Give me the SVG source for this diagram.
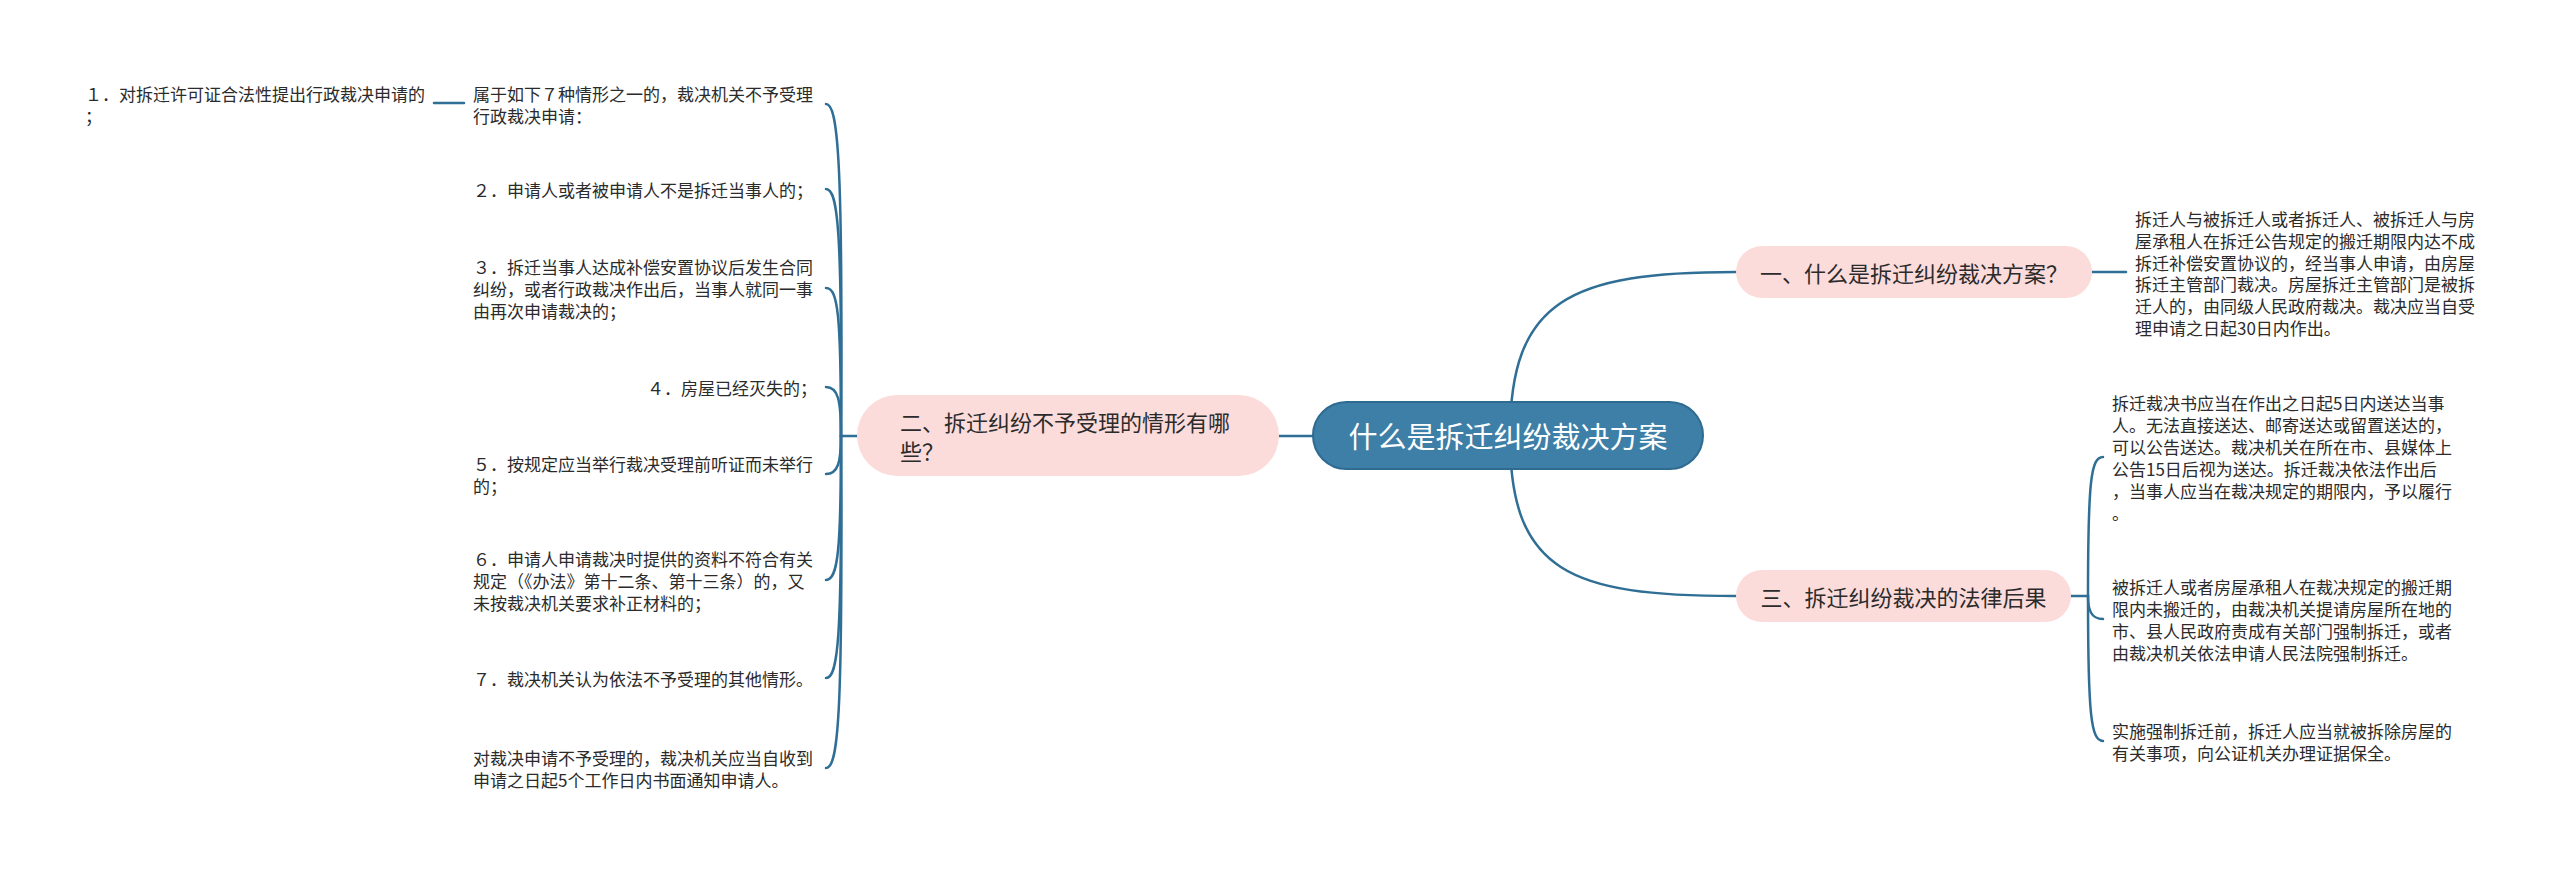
<svg xmlns="http://www.w3.org/2000/svg" width="2560" height="871" viewBox="0 0 2560 871">
<style>
.t{font-family:"Noto Sans CJK SC","Noto Sans",sans-serif;font-size:17px;fill:#2b2b2b;dominant-baseline:central}
.m{font-family:"Noto Sans CJK SC","Noto Sans",sans-serif;font-size:22px;fill:#2b2b2b;dominant-baseline:central}
.c{font-family:"Noto Sans CJK SC","Noto Sans",sans-serif;font-size:29px;fill:#ffffff;dominant-baseline:central;text-anchor:middle}
.pink{fill:#fbdcdb}
.conn path,.conn line{fill:none;stroke:#2f6e95;stroke-width:2.5;stroke-linecap:round}
</style>
<rect width="2560" height="871" fill="#ffffff"/>
<g class="conn" id="connectors">
<path d="M1510,436 C1510,300 1570,272 1736,272"/>
<path d="M1510,436 C1510,572 1570,596 1736,596"/>
<line x1="1279" y1="436" x2="1313" y2="436"/>
<line x1="841" y1="436" x2="857" y2="436"/>
<path d="M841,436 C843,160 838,104 826,104"/>
<path d="M841,436 C842,230 838,189 826,189"/>
<path d="M841,436 C841,315 838,288 826,288"/>
<path d="M841,436 C841,400 838,387 826,387"/>
<path d="M841,436 C841,462 838,474 826,474"/>
<path d="M841,436 C841,550 838,580 826,580"/>
<path d="M841,436 C842,640 838,678 826,678"/>
<path d="M841,436 C843,720 838,768 826,768"/>
<line x1="434" y1="103" x2="464" y2="103"/>
<line x1="2092" y1="272" x2="2126" y2="272"/>
<line x1="2071" y1="596" x2="2088" y2="596"/>
<path d="M2088,596 C2088,480 2091,457 2103,457"/>
<path d="M2088,596 C2088,610 2091,619 2103,619"/>
<path d="M2088,596 C2088,715 2091,741 2103,741"/>
</g>
<g id="root">
<rect x="1313" y="402" width="390" height="67" rx="33.5" fill="#3e7fa7" stroke="#2f6a90" stroke-width="2"/>
<text class="c" x="1508" y="435">什么是拆迁纠纷裁决方案</text>
</g>
<g id="topic1">
<rect class="pink" x="1736" y="246" width="356" height="52" rx="26"/>
<text class="m" x="1914" y="272" text-anchor="middle">一、什么是拆迁纠纷裁决方案？</text>
</g>
<g id="topic2">
<rect class="pink" x="857" y="395" width="422" height="81" rx="40.5"/>
<text class="m" x="900" y="421">二、拆迁纠纷不予受理的情形有哪</text>
<text class="m" x="900" y="450">些？</text>
</g>
<g id="topic3">
<rect class="pink" x="1736" y="570" width="335" height="52" rx="26"/>
<text class="m" x="1903.5" y="596" text-anchor="middle">三、拆迁纠纷裁决的法律后果</text>
</g>
<g id="t1-detail">
<text class="t" x="2135" y="218">拆迁人与被拆迁人或者拆迁人、被拆迁人与房</text>
<text class="t" x="2135" y="240">屋承租人在拆迁公告规定的搬迁期限内达不成</text>
<text class="t" x="2135" y="262">拆迁补偿安置协议的，经当事人申请，由房屋</text>
<text class="t" x="2135" y="283">拆迁主管部门裁决。房屋拆迁主管部门是被拆</text>
<text class="t" x="2135" y="305">迁人的，由同级人民政府裁决。裁决应当自受</text>
<text class="t" x="2135" y="327">理申请之日起30日内作出。</text>
</g>
<g id="t3-a">
<text class="t" x="2112" y="402">拆迁裁决书应当在作出之日起5日内送达当事</text>
<text class="t" x="2112" y="424">人。无法直接送达、邮寄送达或留置送达的，</text>
<text class="t" x="2112" y="446">可以公告送达。裁决机关在所在市、县媒体上</text>
<text class="t" x="2112" y="468">公告15日后视为送达。拆迁裁决依法作出后</text>
<text class="t" x="2112" y="490">，当事人应当在裁决规定的期限内，予以履行</text>
<text class="t" x="2112" y="512">。</text>
</g>
<g id="t3-b">
<text class="t" x="2112" y="586">被拆迁人或者房屋承租人在裁决规定的搬迁期</text>
<text class="t" x="2112" y="608">限内未搬迁的，由裁决机关提请房屋所在地的</text>
<text class="t" x="2112" y="630">市、县人民政府责成有关部门强制拆迁，或者</text>
<text class="t" x="2112" y="652">由裁决机关依法申请人民法院强制拆迁。</text>
</g>
<g id="t3-c">
<text class="t" x="2112" y="730">实施强制拆迁前，拆迁人应当就被拆除房屋的</text>
<text class="t" x="2112" y="752">有关事项，向公证机关办理证据保全。</text>
</g>
<g id="t2-intro">
<text class="t" x="473" y="93">属于如下７种情形之一的，裁决机关不予受理</text>
<text class="t" x="473" y="115">行政裁决申请：</text>
</g>
<g id="t2-1">
<text class="t" x="85" y="93">１．对拆迁许可证合法性提出行政裁决申请的</text>
<text class="t" x="85" y="115">；</text>
</g>
<g id="t2-2">
<text class="t" x="473" y="189">２．申请人或者被申请人不是拆迁当事人的；</text>
</g>
<g id="t2-3">
<text class="t" x="473" y="266">３．拆迁当事人达成补偿安置协议后发生合同</text>
<text class="t" x="473" y="288">纠纷，或者行政裁决作出后，当事人就同一事</text>
<text class="t" x="473" y="310">由再次申请裁决的；</text>
</g>
<g id="t2-4">
<text class="t" x="817" y="387" text-anchor="end">４．房屋已经灭失的；</text>
</g>
<g id="t2-5">
<text class="t" x="473" y="463">５．按规定应当举行裁决受理前听证而未举行</text>
<text class="t" x="473" y="485">的；</text>
</g>
<g id="t2-6">
<text class="t" x="473" y="558">６．申请人申请裁决时提供的资料不符合有关</text>
<text class="t" x="473" y="580">规定（《办法》第十二条、第十三条）的，又</text>
<text class="t" x="473" y="602">未按裁决机关要求补正材料的；</text>
</g>
<g id="t2-7">
<text class="t" x="473" y="678">７．裁决机关认为依法不予受理的其他情形。</text>
</g>
<g id="t2-8">
<text class="t" x="473" y="757">对裁决申请不予受理的，裁决机关应当自收到</text>
<text class="t" x="473" y="779">申请之日起5个工作日内书面通知申请人。</text>
</g>
</svg>
